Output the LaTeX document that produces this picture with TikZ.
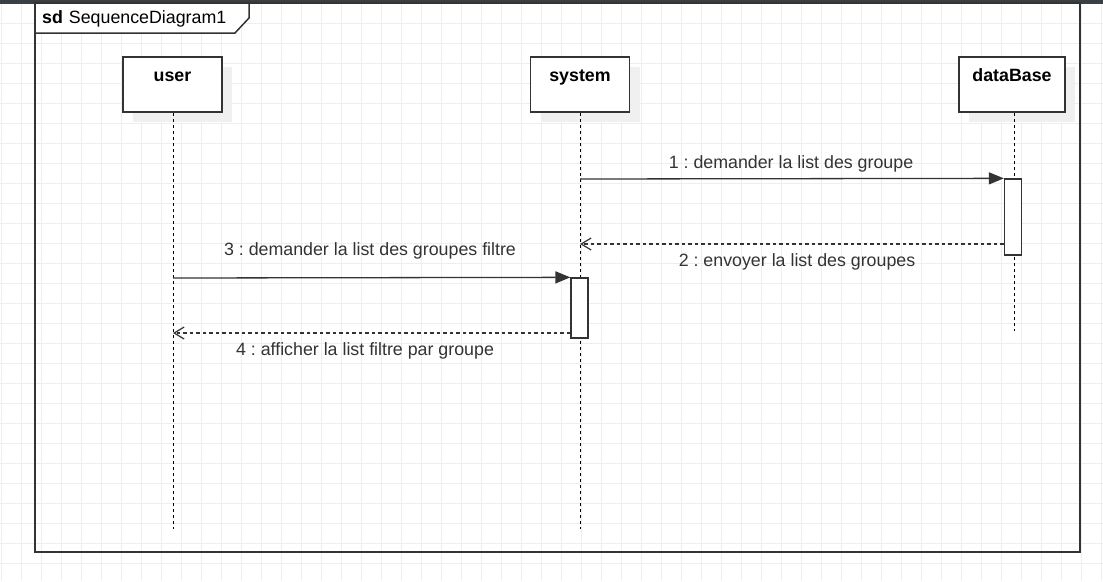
\documentclass[tikz,border=0pt]{standalone}
\usepackage{fontspec}
\setmainfont{Liberation Sans}
\usetikzlibrary{arrows.meta,shadows}
\definecolor{ink}{HTML}{333333}
\definecolor{gridc}{HTML}{EEEEEE}
\definecolor{bar}{HTML}{3A3F44}
\definecolor{shade}{HTML}{F0F0F0}
\frenchspacing
\tikzset{
  lifebox/.style={draw=ink, line width=1.5pt, fill=white, minimum width=99pt, inner sep=0pt,
    text height=24pt, text depth=31pt, font=\fontsize{17.8}{20}\selectfont\bfseries, text=black,
    drop shadow={shadow xshift=10pt, shadow yshift=-10pt, fill=shade, opacity=1}},
  lifeline/.style={draw=black, line width=1pt, dash pattern=on 3pt off 3pt},
  actbox/.style={draw=ink, line width=1.3pt, fill=white, minimum width=17pt, inner sep=0pt},
  callmsg/.style={draw=ink, line width=1.3pt, -{Triangle[length=15pt,width=12pt]}},
  retmsg/.style={draw=ink, line width=1.2pt, dash pattern=on 3.5pt off 3pt, -{Straight Barb[length=10pt,width=12pt,line width=1.2pt]}},
  msglabel/.style={font=\fontsize{17.8}{20}\selectfont, text=ink, inner sep=0pt},
}
\begin{document}
\begin{tikzpicture}[x=1pt,y=-1pt]
\useasboundingbox (0,0) rectangle (1103,581);
\fill[white] (0,0) rectangle (1103,581);
% grid
\foreach \gx in {1,21,...,1101} \draw[gridc, line width=0.9pt] (\gx,0) -- (\gx,581);
\foreach \gy in {3,23,...,581} \draw[gridc, line width=0.9pt] (0,\gy) -- (1103,\gy);
% top bar
\fill[bar] (0,0) rectangle (1103,3.5);
% frame
\draw[ink, line width=2pt] (35,3) rectangle (1080,552);
\draw[ink, line width=1.5pt, fill=white] (35,3) -- (249,3) -- (249,18) -- (235,33) -- (35,33) -- cycle;
\node[anchor=base west, inner sep=0pt, font=\fontsize{17.8}{20}\selectfont, text=black] (title) at (42,23) {\textbf{sd}\hspace{6pt}SequenceDiagram1};
% lifeline heads
\node[lifebox] (user) at (172.5,84.5) {user};
\node[lifebox] (system) at (580,84.5) {system};
\node[lifebox, minimum width=106pt] (db) at (1012,84.5) {dataBase};
% lifelines
\coordinate (uend) at (173,529);
\coordinate (send) at (580,529);
\coordinate (dend) at (1014,331);
\draw[lifeline] (user.south -| uend) -- (uend);
\draw[lifeline] (system.south -| send) -- (send);
\draw[lifeline] (db.south -| dend) -- (dend);
% activation boxes
\node[actbox, minimum height=76pt] (actdb) at (1013,217) {};
\node[actbox, minimum height=60pt] (actsys) at (579.5,308) {};
% message anchors on lifelines
\coordinate (s1) at (580,179);
\coordinate (s2) at (580,244);
\coordinate (u3) at (173,278);
\coordinate (u4) at (173,333);
% messages
\draw[callmsg] (s1) -- (actdb.north west);
\draw[retmsg] (actdb.west |- s2) -- (s2);
\draw[callmsg] (u3) -- (actsys.north west);
\draw[retmsg] (actsys.west |- u4) -- (u4);
% labels
\node[msglabel] (l1) at (791,164) {1 : demander la list des groupe};
\node[msglabel] (l2) at (797,262) {2 : envoyer la list des groupes};
\node[msglabel] (l3) at (370,251) {3 : demander la list des groupes filtre};
\node[msglabel] (l4) at (365,351) {4 : afficher la list filtre par groupe};
\end{tikzpicture}
\end{document}
